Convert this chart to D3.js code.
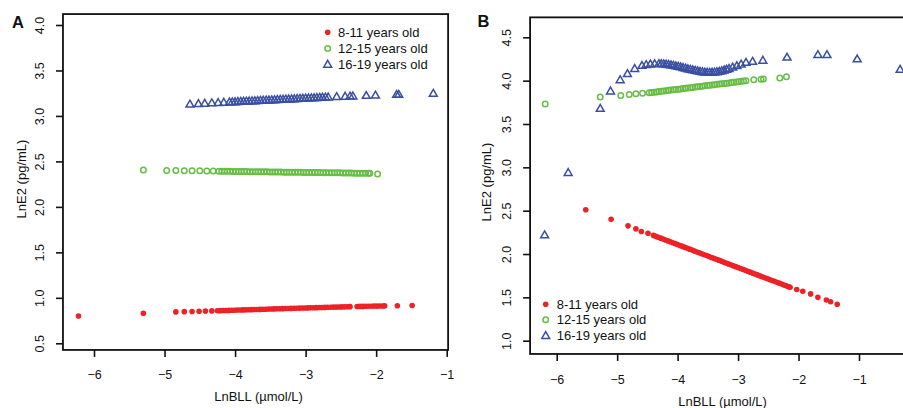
<!DOCTYPE html>
<html><head><meta charset="utf-8">
<script src="https://cdn.jsdelivr.net/npm/d3@7"></script>
<style>body{margin:0;background:#fff} svg{display:block} text{font-family:"Liberation Sans",Arial,sans-serif;fill:#111}</style>
</head><body><svg id="c" width="903" height="408"></svg>
<script>
// ---------- data ----------
const groups = ["8-11 years old", "12-15 years old", "16-19 years old"];
const xTicks = [-6, -5, -4, -3, -2, -1];
const xTickLabels = ["\u22126", "\u22125", "\u22124", "\u22123", "\u22122", "\u22121"];
const yTicksA = [0.5, 1, 1.5, 2, 2.5, 3, 3.5, 4];
const yTickLabelsA = ["0.5", "1.0", "1.5", "2.0", "2.5", "3.0", "3.5", "4.0"];
const yTicksB = [1, 1.5, 2, 2.5, 3, 3.5, 4, 4.5];
const yTickLabelsB = ["1.0", "1.5", "2.0", "2.5", "3.0", "3.5", "4.0", "4.5"];
const xTitle = "LnBLL (\u00b5mol/L)";
const yTitle = "LnE2 (pg/mL)";

// Panel A
const a811 = [[-6.22,0.80],[-5.30,0.83],[-4.84,0.845],[-4.72,0.848],[-4.61,0.850],[-4.51,0.852],[-4.42,0.854],[-4.33,0.856],
  [-4.25,0.858],[-4.21,0.859],[-4.17,0.860],[-4.13,0.861],[-4.09,0.862],[-4.05,0.863],[-4.01,0.864],[-3.97,0.865],[-3.93,0.866],[-3.89,0.867],
  [-3.85,0.868],[-3.81,0.869],[-3.77,0.870],[-3.73,0.871],[-3.69,0.872],[-3.65,0.873],[-3.61,0.874],[-3.57,0.875],[-3.53,0.876],[-3.49,0.877],
  [-3.45,0.878],[-3.41,0.879],[-3.37,0.880],[-3.33,0.881],[-3.29,0.882],[-3.25,0.883],[-3.21,0.884],[-3.17,0.885],[-3.13,0.886],[-3.09,0.887],
  [-3.05,0.888],[-3.01,0.888],[-2.97,0.889],[-2.93,0.890],[-2.89,0.891],[-2.85,0.892],[-2.81,0.893],[-2.77,0.894],[-2.73,0.895],[-2.69,0.896],
  [-2.65,0.897],[-2.61,0.898],[-2.57,0.898],[-2.53,0.899],[-2.49,0.900],[-2.45,0.901],[-2.41,0.902],[-2.37,0.903],
  [-2.27,0.905],[-2.23,0.906],[-2.19,0.906],[-2.15,0.907],[-2.11,0.908],[-2.07,0.908],[-2.03,0.909],[-1.99,0.909],[-1.95,0.910],[-1.91,0.910],[-1.88,0.911],
  [-1.70,0.913],[-1.49,0.915]];
const a1215 = [[-5.30,2.405],[-4.97,2.400],[-4.84,2.399],[-4.72,2.398],[-4.61,2.397],[-4.50,2.396],[-4.40,2.395],[-4.31,2.394],
  [-4.23,2.393],[-4.19,2.392],[-4.15,2.392],[-4.11,2.391],[-4.07,2.391],[-4.03,2.390],[-3.99,2.390],[-3.95,2.389],[-3.91,2.389],[-3.87,2.388],
  [-3.83,2.388],[-3.79,2.387],[-3.75,2.387],[-3.71,2.386],[-3.67,2.386],[-3.63,2.386],[-3.59,2.385],[-3.55,2.385],[-3.51,2.384],[-3.47,2.384],
  [-3.43,2.383],[-3.39,2.383],[-3.35,2.383],[-3.31,2.382],[-3.27,2.382],[-3.23,2.381],[-3.19,2.381],[-3.15,2.380],[-3.11,2.380],[-3.07,2.380],
  [-3.03,2.379],[-2.99,2.379],[-2.95,2.378],[-2.91,2.378],[-2.87,2.377],[-2.83,2.377],[-2.79,2.377],[-2.75,2.376],[-2.71,2.376],[-2.67,2.375],
  [-2.63,2.375],[-2.59,2.374],[-2.55,2.374],[-2.51,2.374],[-2.47,2.373],[-2.43,2.373],[-2.39,2.372],[-2.35,2.372],[-2.31,2.371],[-2.27,2.371],
  [-2.23,2.371],[-2.19,2.370],[-2.15,2.370],[-2.11,2.370],[-2.09,2.370],[-1.98,2.362]];
const a1619 = [[-4.64,3.130],[-4.52,3.135],[-4.43,3.139],[-4.33,3.143],[-4.24,3.147],[-4.16,3.150],
  [-4.08,3.153],[-4.04,3.155],[-4.00,3.156],[-3.96,3.158],[-3.92,3.160],[-3.88,3.161],[-3.84,3.163],[-3.80,3.164],[-3.76,3.166],[-3.72,3.167],
  [-3.68,3.169],[-3.64,3.171],[-3.60,3.172],[-3.56,3.174],[-3.52,3.175],[-3.48,3.177],[-3.44,3.178],[-3.40,3.180],[-3.36,3.182],[-3.32,3.183],
  [-3.28,3.185],[-3.24,3.186],[-3.20,3.188],[-3.16,3.189],[-3.12,3.191],[-3.08,3.193],[-3.04,3.194],[-3.00,3.196],[-2.96,3.197],[-2.92,3.199],
  [-2.88,3.200],[-2.84,3.202],[-2.80,3.204],[-2.76,3.205],[-2.72,3.207],[-2.68,3.208],
  [-2.56,3.212],[-2.44,3.216],[-2.37,3.218],[-2.33,3.219],[-2.14,3.225],[-2.01,3.228],[-1.71,3.236],[-1.68,3.237],[-1.19,3.248]];

// Panel B
const b811 = [[-5.52,2.51],[-5.10,2.40],[-4.82,2.325],[-4.69,2.29],[-4.60,2.26],[-4.49,2.24],[-4.40,2.215],
  [-4.36,2.204],[-4.32,2.194],[-4.28,2.183],[-4.24,2.173],[-4.20,2.162],[-4.16,2.151],[-4.12,2.141],[-4.08,2.130],[-4.04,2.120],[-4.00,2.109],
  [-3.96,2.098],[-3.92,2.088],[-3.88,2.077],[-3.84,2.066],[-3.80,2.056],[-3.76,2.045],[-3.72,2.035],[-3.68,2.024],[-3.64,2.013],[-3.60,2.003],
  [-3.56,1.992],[-3.52,1.982],[-3.48,1.971],[-3.44,1.960],[-3.40,1.950],[-3.36,1.939],[-3.32,1.929],[-3.28,1.918],[-3.24,1.907],[-3.20,1.897],
  [-3.16,1.886],[-3.12,1.876],[-3.08,1.865],[-3.04,1.854],[-3.00,1.844],[-2.96,1.833],[-2.92,1.823],[-2.88,1.812],[-2.84,1.801],[-2.80,1.791],
  [-2.76,1.780],[-2.72,1.770],[-2.68,1.759],[-2.64,1.748],[-2.60,1.738],[-2.56,1.727],[-2.52,1.717],[-2.48,1.706],[-2.44,1.695],[-2.40,1.685],
  [-2.36,1.674],[-2.32,1.664],[-2.28,1.653],[-2.24,1.642],[-2.20,1.632],[-2.16,1.621],[-2.14,1.617],
  [-2.03,1.59],[-1.93,1.57],[-1.80,1.54],[-1.68,1.50],[-1.54,1.47],[-1.47,1.45],[-1.36,1.42]];
const b1215 = [[-6.19,3.73],[-5.28,3.81],[-4.94,3.83],[-4.80,3.84],[-4.69,3.85],[-4.58,3.855],[-4.47,3.86],
  [-4.43,3.863],[-4.39,3.867],[-4.35,3.870],[-4.31,3.874],[-4.27,3.877],[-4.23,3.881],[-4.19,3.884],[-4.15,3.888],[-4.11,3.891],[-4.07,3.895],
  [-4.03,3.898],[-3.99,3.902],[-3.95,3.905],[-3.91,3.909],[-3.87,3.912],[-3.83,3.915],[-3.79,3.919],[-3.75,3.922],[-3.71,3.926],[-3.67,3.929],
  [-3.63,3.933],[-3.59,3.936],[-3.55,3.940],[-3.51,3.943],[-3.47,3.947],[-3.43,3.950],[-3.39,3.954],[-3.35,3.957],[-3.31,3.961],[-3.27,3.964],
  [-3.23,3.968],[-3.19,3.971],[-3.15,3.974],[-3.11,3.978],[-3.07,3.981],[-3.03,3.985],[-2.99,3.988],[-2.95,3.992],[-2.91,3.995],[-2.87,3.999],
  [-2.74,4.01],[-2.62,4.015],[-2.58,4.02],[-2.31,4.03],[-2.20,4.045]];
const b1619 = [[-6.20,2.22],[-5.81,2.94],[-5.28,3.68],[-5.11,3.88],[-4.95,4.01],[-4.83,4.08],[-4.71,4.14],
  [-4.59,4.175],[-4.52,4.185],[-4.45,4.192],[-4.38,4.195],[-4.31,4.196],[-4.27,4.195],[-4.23,4.193],[-4.19,4.190],[-4.15,4.186],[-4.11,4.181],
  [-4.07,4.176],[-4.03,4.170],[-3.99,4.164],[-3.95,4.158],[-3.91,4.151],[-3.87,4.144],[-3.83,4.137],[-3.79,4.130],[-3.75,4.124],[-3.71,4.118],
  [-3.67,4.112],[-3.63,4.107],[-3.59,4.102],[-3.55,4.098],[-3.51,4.096],[-3.47,4.095],[-3.43,4.096],[-3.39,4.098],[-3.35,4.102],[-3.31,4.107],
  [-3.27,4.114],[-3.23,4.122],[-3.19,4.131],[-3.15,4.140],[-3.09,4.155],[-3.02,4.172],[-2.95,4.190],[-2.87,4.210],[-2.76,4.222],[-2.59,4.235],
  [-2.19,4.27],[-1.68,4.30],[-1.53,4.30],[-1.03,4.25],[-0.32,4.13]];

// ---------- styles / layout ----------
const colors = ["#ec2227", "#67bd45", "#3a4ea3"];
const svg = d3.select("#c");

const panels = [
  { id: "A", label: "A", series: [a811, a1215, a1619], yTicks: yTicksA, yLabels: yTickLabelsA,
    x: d3.scaleLinear().domain([-6, -1]).range([94, 446.7]), xlim: [-6.44, -0.98],
    y: d3.scaleLinear().domain([0.5, 4]).range([343.3, 25]), ylim: [0.427, 4.12],
    xLabY: 374.5, yLabX: 40, xTitleY: 396, yTitleX: 21.5, yTitleY: 179, labelPos: [12, 27.5],
    legend: { mx: 327.7, tx: 338, rows: [32.3, 48.5, 64.3] } },
  { id: "B", label: "B", series: [b811, b1215, b1619], yTicks: yTicksB, yLabels: yTickLabelsB,
    x: d3.scaleLinear().domain([-6, -1]).range([556.7, 859]), xlim: [-6.44, -0.06],
    y: d3.scaleLinear().domain([1, 4.5]).range([340.7, 37.3]), ylim: [0.847, 4.73],
    xLabY: 380, yLabX: 506.7, xTitleY: 401.5, yTitleX: 486.7, yTitleY: 182, labelPos: [477.5, 26.5],
    legend: { mx: 545.7, tx: 556.7, rows: [304.3, 319.8, 335.5] } }
];

const triPath = d3.symbol().type(d3.symbolTriangle).size(27)();

function marker(sel, k, pt) {
  if (k === 0) {
    sel.append("circle").attr("cx", pt[0]).attr("cy", pt[1]).attr("r", 2.8).attr("fill", colors[0]);
  } else if (k === 1) {
    sel.append("circle").attr("cx", pt[0]).attr("cy", pt[1]).attr("r", 2.75)
      .attr("fill", "none").attr("stroke", colors[1]).attr("stroke-width", 1.5);
  } else {
    sel.append("path").attr("d", triPath).attr("transform", `translate(${pt[0]},${pt[1] + 0.6})`)
      .attr("fill", "none").attr("stroke", colors[2]).attr("stroke-width", 1.5).attr("stroke-linejoin", "miter");
  }
}

panels.forEach(p => {
  const x0 = p.x(p.xlim[0]), x1 = p.x(p.xlim[1]);
  const y0 = p.y(p.ylim[1]), y1 = p.y(p.ylim[0]);
  const g = svg.append("g");

  g.append("clipPath").attr("id", "clip" + p.id)
    .append("rect").attr("x", x0).attr("y", y0).attr("width", x1 - x0).attr("height", y1 - y0);

  // points
  const pts = g.append("g").attr("clip-path", `url(#clip${p.id})`);
  p.series.forEach((s, k) => {
    s.forEach(d => marker(pts, k, [p.x(d[0]), p.y(d[1])]));
  });

  // box
  g.append("rect").attr("x", x0).attr("y", y0).attr("width", x1 - x0).attr("height", y1 - y0)
    .attr("fill", "none").attr("stroke", "#111").attr("stroke-width", 1.8);

  // x axis
  const xa = g.append("g").attr("transform", `translate(0,${y1})`)
    .call(d3.axisBottom(p.x).tickValues(xTicks).tickSize(7).tickFormat((d, i) => xTickLabels[i]));
  xa.select(".domain").remove();
  xa.selectAll("line").attr("stroke", "#111").attr("stroke-width", 1.6);
  xa.selectAll("text").attr("y", p.xLabY - y1).attr("dy", "0.35em").attr("font-size", 12.5)
    .attr("font-family", "Liberation Sans, Arial, sans-serif").attr("fill", "#111");

  // y axis
  const ya = g.append("g").attr("transform", `translate(${x0},0)`)
    .call(d3.axisLeft(p.y).tickValues(p.yTicks).tickSize(7).tickFormat((d, i) => p.yLabels[i]));
  ya.select(".domain").remove();
  ya.selectAll("line").attr("stroke", "#111").attr("stroke-width", 1.6);
  ya.selectAll("text").attr("transform", "rotate(-90)").attr("x", 0).attr("y", p.yLabX - x0)
    .attr("dy", "0.35em").attr("text-anchor", "middle").attr("font-size", 12.5)
    .attr("font-family", "Liberation Sans, Arial, sans-serif").attr("fill", "#111");

  // titles
  g.append("text").attr("x", (x0 + Math.min(x1, 915)) / 2 + (p.id === "A" ? 3 : 0)).attr("y", p.xTitleY).attr("dy", "0.35em")
    .attr("text-anchor", "middle").attr("font-size", 13).text(xTitle);
  g.append("text").attr("transform", `translate(${p.yTitleX},${p.yTitleY}) rotate(-90)`)
    .attr("dy", "0.35em").attr("text-anchor", "middle").attr("font-size", 13).text(yTitle);

  // panel label
  g.append("text").attr("x", p.labelPos[0]).attr("y", p.labelPos[1]).attr("font-size", 16.5)
    .attr("font-weight", "bold").text(p.label);

  // legend
  groups.forEach((name, k) => {
    const ly = p.legend.rows[k];
    marker(g, k, [p.legend.mx, ly]);
    g.append("text").attr("x", p.legend.tx).attr("y", ly).attr("dy", "0.35em")
      .attr("font-size", 13).text(name);
  });
});
</script></body></html>
